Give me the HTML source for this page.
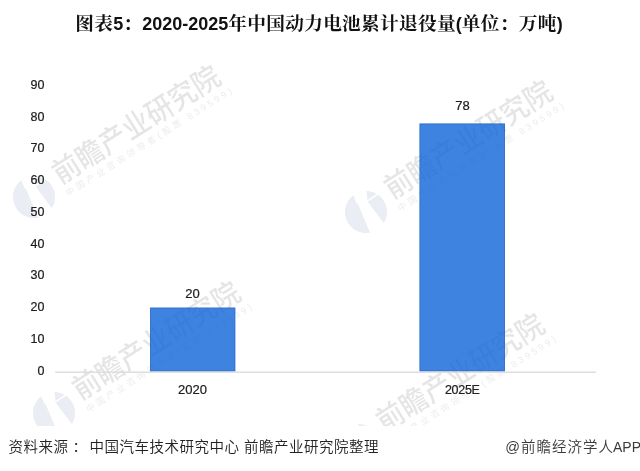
<!DOCTYPE html>
<html lang="zh-CN">
<head>
<meta charset="utf-8">
<title>图表5：2020-2025年中国动力电池累计退役量(单位：万吨)</title>
<style>
html,body{margin:0;padding:0;background:#fff;}
body{width:640px;height:471px;position:relative;overflow:hidden;font-family:"Liberation Sans","Noto Sans CJK SC",sans-serif;color:#1a1a1a;}
.abs{position:absolute;white-space:nowrap;}
#title{left:-1px;width:640px;top:11px;text-align:center;font-family:"Liberation Sans","Noto Serif CJK SC",serif;font-weight:700;font-size:18.67px;letter-spacing:0.3px;line-height:26px;color:#111;}
#title span{font-size:18px;letter-spacing:0;}
.yl{-webkit-text-stroke:0.2px #111;right:595.5px;width:30px;text-align:right;font-size:12.5px;line-height:14px;height:14px;color:#222;}
.num{-webkit-text-stroke:0.2px #111;font-size:12.5px;line-height:14px;height:14px;width:60px;text-align:center;color:#222;}
#src{left:8.5px;top:437px;font-weight:350;font-size:14.5px;line-height:20px;letter-spacing:0.5px;color:#222;}
#src b{font-weight:350;padding:0 2px 0 4px;}
#app{right:-1px;top:437px;font-weight:350;font-size:14.5px;line-height:20px;letter-spacing:1px;color:#3a3a3a;}
#app span{font-size:14px;letter-spacing:0;margin-left:-1px;}
#wmclip{position:absolute;left:0;top:0;width:640px;height:426px;overflow:hidden;}
.lg{position:absolute;width:44px;height:44px;}
.wm{position:absolute;width:260px;height:60px;transform-origin:0 0;transform:rotate(-32.3deg);color:rgba(0,0,0,0.1);pointer-events:none;}
.wm .t{position:absolute;left:29px;top:-22.5px;font-size:28px;line-height:34px;font-weight:500;font-family:"Liberation Sans","Noto Sans CJK SC",sans-serif;transform-origin:0 80%;transform:scale(0.98,1.05);white-space:nowrap;}
.wm .s{position:absolute;left:29px;top:8.5px;font-size:9px;line-height:12px;letter-spacing:3px;font-family:"Liberation Sans","Noto Sans CJK SC",sans-serif;white-space:nowrap;color:rgba(0,0,0,0.085);}
</style>
</head>
<body>

<div id="wmclip">
<svg class="lg" style="left:12px;top:175.2px;" width="44" height="44" viewBox="-22 -22 44 44"><circle cx="0" cy="0" r="21.2" fill="#eaedf3"/><path d="M-13,-17.5 L0.2,-23 L1.6,-10.4 L20,14 L5,23 L-8.2,-8.5 L-9.6,-9 Z" fill="#fff"/><path d="M-0.6,-9.6 L13,-18.8" stroke="#fff" stroke-width="1.5" fill="none"/><circle cx="0" cy="0" r="22.2" fill="none" stroke="#fff" stroke-width="2"/></svg>
<div class="wm" style="left:34px;top:197.2px;"><div class="t">前瞻产业研究院</div><div class="s">中国产业咨询领导者(股票 839599)</div></div>
<svg class="lg" style="left:343.7px;top:189.6px;" width="44" height="44" viewBox="-22 -22 44 44"><circle cx="0" cy="0" r="21.2" fill="#eaedf3"/><path d="M-13,-17.5 L0.2,-23 L1.6,-10.4 L20,14 L5,23 L-8.2,-8.5 L-9.6,-9 Z" fill="#fff"/><path d="M-0.6,-9.6 L13,-18.8" stroke="#fff" stroke-width="1.5" fill="none"/><circle cx="0" cy="0" r="22.2" fill="none" stroke="#fff" stroke-width="2"/></svg>
<div class="wm" style="left:365.7px;top:211.6px;"><div class="t">前瞻产业研究院</div><div class="s">中国产业咨询领导者(股票 839599)</div></div>
<svg class="lg" style="left:32.3px;top:391px;" width="44" height="44" viewBox="-22 -22 44 44"><circle cx="0" cy="0" r="21.2" fill="#eaedf3"/><path d="M-13,-17.5 L0.2,-23 L1.6,-10.4 L20,14 L5,23 L-8.2,-8.5 L-9.6,-9 Z" fill="#fff"/><path d="M-0.6,-9.6 L13,-18.8" stroke="#fff" stroke-width="1.5" fill="none"/><circle cx="0" cy="0" r="22.2" fill="none" stroke="#fff" stroke-width="2"/></svg>
<div class="wm" style="left:54.3px;top:413px;"><div class="t">前瞻产业研究院</div><div class="s">中国产业咨询领导者(股票 839599)</div></div>
<svg class="lg" style="left:336px;top:423px;" width="44" height="44" viewBox="-22 -22 44 44"><circle cx="0" cy="0" r="21.2" fill="#eaedf3"/><path d="M-13,-17.5 L0.2,-23 L1.6,-10.4 L20,14 L5,23 L-8.2,-8.5 L-9.6,-9 Z" fill="#fff"/><path d="M-0.6,-9.6 L13,-18.8" stroke="#fff" stroke-width="1.5" fill="none"/><circle cx="0" cy="0" r="22.2" fill="none" stroke="#fff" stroke-width="2"/></svg>
<div class="wm" style="left:358px;top:445px;"><div class="t">前瞻产业研究院</div><div class="s">中国产业咨询领导者(股票 839599)</div></div>
</div>
<svg class="abs" style="left:0;top:0;" width="640" height="471" viewBox="0 0 640 471">
<rect x="55.2" y="371.5" width="540.8" height="1.4" fill="#dcdcdc"/>
<g opacity="0.8">
<rect x="150" y="307.6" width="85.3" height="63.6" fill="#0f64da"/>
<rect x="419.5" y="123.5" width="85.5" height="247.7" fill="#0f64da"/>
</g>
<rect x="150.5" y="308.1" width="84.3" height="62.6" fill="none" stroke="#2f62b8" stroke-opacity="0.45" stroke-width="1"/>
<rect x="420" y="124" width="84.5" height="246.7" fill="none" stroke="#2f62b8" stroke-opacity="0.45" stroke-width="1"/>
</svg>
<div id="title" class="abs">图表<span>5</span>：<span>2020-2025</span>年中国动力电池累计退役量<span>(</span>单位：万吨<span>)</span></div>

<div class="abs yl" style="top:78px;">90</div>
<div class="abs yl" style="top:110px;">80</div>
<div class="abs yl" style="top:141px;">70</div>
<div class="abs yl" style="top:173px;">60</div>
<div class="abs yl" style="top:205px;">50</div>
<div class="abs yl" style="top:237px;">40</div>
<div class="abs yl" style="top:268px;">30</div>
<div class="abs yl" style="top:300px;">20</div>
<div class="abs yl" style="top:332px;">10</div>
<div class="abs yl" style="top:364px;">0</div>


<div class="abs num" style="left:162.5px;top:286.5px;font-size:13px;">20</div>
<div class="abs num" style="left:432.5px;top:98.5px;font-size:13px;">78</div>
<div class="abs num" style="left:162.5px;top:382.5px;font-size:13px;">2020</div>
<div class="abs num" style="left:432.3px;top:382.5px;letter-spacing:-0.3px;">2025E</div>

<div id="src" class="abs">资料来源<b>：</b>中国汽车技术研究中心 前瞻产业研究院整理</div>
<div id="app" class="abs">@前瞻经济学人<span>APP</span></div>
</body>
</html>
